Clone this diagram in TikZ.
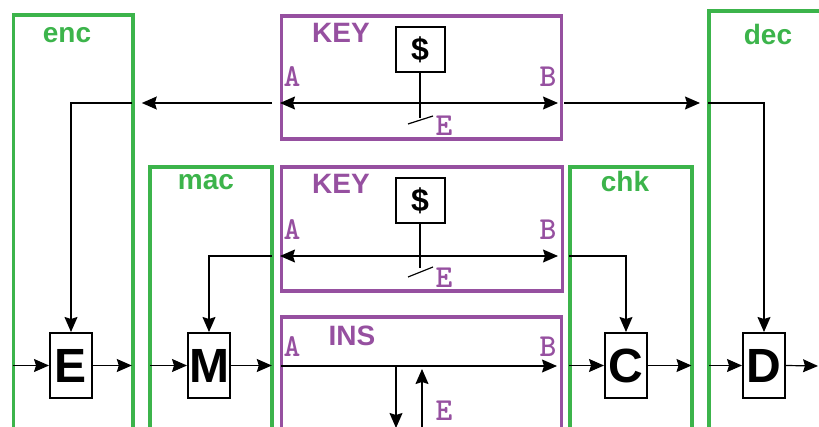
\documentclass[tikz,border=0pt]{standalone}
\usepackage{fontspec}
\setmainfont{Liberation Sans}
\usepackage{xcolor}
\definecolor{partgreen}{HTML}{3CB44B}
\definecolor{keypurple}{HTML}{9650A0}
\usepackage{tikz}
\usetikzlibrary{arrows.meta, positioning, calc}
\tikzset{
  partbox/.style={rectangle, draw=partgreen, line width=1.9pt, anchor=north west, inner sep=0pt},
  keybox/.style ={rectangle, draw=keypurple, line width=1.9pt, anchor=north west, inner sep=0pt},
  opbox/.style  ={rectangle, draw=black, line width=1pt, fill=white, inner sep=0pt,
                  minimum width=21pt, minimum height=32.5pt, font=\fontsize{24}{24}\selectfont\bfseries},
  rndbox/.style ={rectangle, draw=black, line width=1pt, fill=white, inner sep=0pt,
                  minimum width=24.5pt, minimum height=22.5pt, font=\fontsize{16}{16}\selectfont\bfseries},
  partlbl/.style={text=partgreen, font=\fontsize{14}{14}\selectfont\bfseries, inner sep=0pt},
  keylbl/.style ={text=keypurple, font=\fontsize{14}{14}\selectfont\bfseries, inner sep=0pt},
  portlbl/.style={text=keypurple, font=\ttfamily\bfseries\fontsize{16}{16}\selectfont, inner sep=0pt},
  wire/.style   ={line width=0.6pt, color=black},
  sarr/.style   ={-{Stealth[length=7.5pt, width=6.5pt, inset=1pt]}, line width=0.6pt, color=black},
  sarrb/.style  ={{Stealth[length=7.5pt, width=6.5pt, inset=1pt]}-{Stealth[length=7.5pt, width=6.5pt, inset=1pt]}, line width=0.6pt, color=black},
}
\begin{document}
\begin{tikzpicture}[x=0.5pt, y=-0.5pt]
  \useasboundingbox (0,0) rectangle (819,427);
  % frames
  \node[partbox, minimum width=59.75pt, minimum height=213pt] (enc) at (11.5,13.3) {};
  \node[partbox, minimum width=60.85pt, minimum height=137.5pt] (mac) at (148.3,165) {};
  \node[partbox, minimum width=60.85pt, minimum height=137.5pt] (chk) at (568,165) {};
  \node[partbox, minimum width=70pt, minimum height=215pt] (dec) at (707,9.5) {};
  \node[keybox, minimum width=140pt, minimum height=61.6pt] (key1) at (279.5,13.8) {};
  \node[keybox, minimum width=140.5pt, minimum height=62.1pt] (key2) at (279.5,165.3) {};
  \node[keybox, minimum width=140pt, minimum height=65pt] (ins) at (279.5,315.3) {};

  \node[partlbl] (enclbl) at (67,35) {enc};
  \node[partlbl] (maclbl) at (206,182.5) {mac};
  \node[partlbl] (chklbl) at (625,181.5) {chk};
  \node[partlbl] (declbl) at (768,34) {dec};
  \node[keylbl] (key1lbl) at (341,33) {KEY};
  \node[keylbl] (key2lbl) at (341,184) {KEY};
  \node[keylbl] (inslbl) at (352,336) {INS};

  \node[portlbl] (k1A) at (292,77) {A};
  \node[portlbl] (k1B) at (548,77) {B};
  \node[portlbl] (k1E) at (444,126) {E};
  \node[portlbl] (k2A) at (292,230) {A};
  \node[portlbl] (k2B) at (548,230) {B};
  \node[portlbl] (k2E) at (444,277.5) {E};
  \node[portlbl] (iA) at (292,346.5) {A};
  \node[portlbl] (iB) at (548,346.5) {B};
  \node[portlbl] (iE) at (444,411) {E};

  \node[opbox] (E) at (71,365.5) {E};
  \node[opbox] (M) at (209,365.5) {M};
  \node[opbox] (C) at (626,365.5) {C};
  \node[opbox] (D) at (764,365.5) {D};
  \node[rndbox] (rnd1) at (420,49.5) {\$};
  \node[rndbox] (rnd2) at (420,201) {\$};

  \coordinate (k1a) at (280,103);
  \coordinate (k1b) at (558,103);
  \coordinate (t1) at (420,118);
  \coordinate (s1a) at (408,124);
  \coordinate (s1b) at (433,116);
  \coordinate (k2a) at (280,256);
  \coordinate (k2b) at (558,256);
  \coordinate (t2) at (420,268);
  \coordinate (s2a) at (408,277);
  \coordinate (s2b) at (433,267);
  \coordinate (ia) at (281,366);
  \coordinate (ib) at (557,366);
  \coordinate (idn0) at (396,366);
  \coordinate (idn1) at (396,428);
  \coordinate (iup0) at (422,432);
  \coordinate (iup1) at (422,369);
  \coordinate (dout) at (818,366);

  % key exchange, top
  \draw[sarrb] (k1a) -- (k1b);
  \draw[wire] (rnd1.south) -- (t1);
  \draw[wire] (s1a) -- (s1b);
  \draw[sarr, shorten <=4pt, shorten >=3.5pt] (k1a) -- (enc.east |- k1a);
  \draw[sarr] ([xshift=-1.5pt]enc.east |- k1a) -| (E.north);
  \draw[sarr, shorten <=3pt, shorten >=3.5pt] (k1b) -- (dec.west |- k1b);
  \draw[sarr] ([xshift=0.5pt]dec.west |- k1b) -| (D.north);

  % key exchange, middle
  \draw[sarrb] (k2a) -- (k2b);
  \draw[wire] (rnd2.south) -- (t2);
  \draw[wire] (s2a) -- (s2b);
  \draw[sarr] ([xshift=-1pt]mac.east |- k2a) -| (M.north);
  \draw[sarr] ([xshift=0.5pt]chk.west |- k2b) -| (C.north);

  % message path
  \draw[sarr] ([xshift=0.5pt]enc.west |- E) -- (E.west);
  \draw[sarr] (E.east) -- ([xshift=-1.5pt]enc.east |- E);
  \draw[sarr] ([xshift=1pt]mac.west |- M) -- (M.west);
  \draw[sarr] (M.east) -- ([xshift=-1pt]mac.east |- M);
  \draw[sarr] (ia) -- (ib);
  \draw[sarr] (idn0) -- (idn1);
  \draw[sarr] (iup0) -- (iup1);
  \draw[sarr] ([xshift=0.5pt]chk.west |- C) -- (C.west);
  \draw[sarr] (C.east) -- ([xshift=-1pt]chk.east |- C);
  \draw[sarr] ([xshift=1pt]dec.west |- D) -- (D.west);
  \draw[sarr] (D.east) -- (dout);
\end{tikzpicture}
\end{document}
